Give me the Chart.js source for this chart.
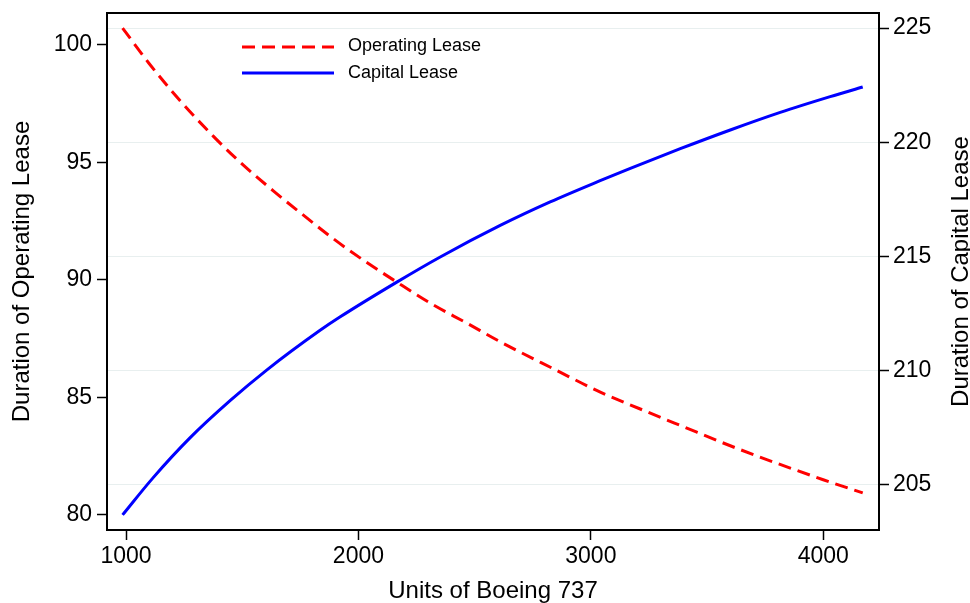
<!DOCTYPE html>
<html>
<head>
<meta charset="utf-8">
<script src="https://cdn.jsdelivr.net/npm/chart.js@4.4.1/dist/chart.umd.min.js"></script>
<style>
  html, body { margin: 0; padding: 0; background: #fff; }
  canvas { display: block; }
</style>
</head>
<body>
<canvas id="leaseChart" width="970" height="603"></canvas>
<script>
// Valores
const opUnits = [985, 1100, 1230, 1375, 1490, 1635, 1750, 1890, 2020, 2165, 2320, 2465, 2610, 2855, 3025, 3210, 3385, 3640, 4000, 4170];
const opDuration = [100.72, 99.20, 97.66, 96.12, 95.02, 93.78, 92.86, 91.77, 90.85, 89.91, 88.95, 88.17, 87.37, 86.14, 85.30, 84.52, 83.81, 82.79, 81.50, 80.94];

const capUnits = [985, 1115, 1275, 1450, 1605, 1835, 1920, 2165, 2350, 2610, 2825, 3040, 3170, 3385, 3600, 3815, 4030, 4170];
const capDuration = [203.69, 205.30, 207.06, 208.71, 210.03, 211.77, 212.35, 213.88, 214.97, 216.36, 217.39, 218.32, 218.86, 219.72, 220.54, 221.31, 222.00, 222.42];

const xTicks = [1000, 2000, 3000, 4000];
const leftTicks = [80, 85, 90, 95, 100];
const rightTicks = [205, 210, 215, 220, 225];

const FONT = '"Liberation Sans", Arial, Helvetica, sans-serif';

function toPoints(xs, ys) {
    return xs.map((x, i) => ({ x: x, y: ys[i] }));
}

function fixedTicks(values) {
    return function(scale) {
        scale.ticks = values.map(v => ({ value: v }));
    };
}

// Moldura preta em volta da área do gráfico
const framePlugin = {
    id: 'frame',
    afterDraw(chart) {
        const { ctx, chartArea: a } = chart;
        ctx.save();
        ctx.strokeStyle = '#000';
        ctx.lineWidth = 2;
        ctx.strokeRect(a.left, a.top, a.right - a.left, a.bottom - a.top);
        ctx.restore();
    }
};

// Título do eixo direito, lido de baixo para cima como o esquerdo
const rightTitlePlugin = {
    id: 'rightTitle',
    afterDraw(chart) {
        const { ctx, chartArea: a } = chart;
        ctx.save();
        ctx.translate(968, (a.top + a.bottom) / 2);
        ctx.rotate(-Math.PI / 2);
        ctx.font = '24px ' + FONT;
        ctx.fillStyle = '#000';
        ctx.textAlign = 'center';
        ctx.textBaseline = 'alphabetic';
        ctx.fillText('Duration of Capital Lease', 0, 0);
        ctx.restore();
    }
};

// Legenda dentro da área do gráfico
const insideLegendPlugin = {
    id: 'insideLegend',
    afterDraw(chart) {
        const ctx = chart.ctx;
        const rows = [{ y: 47, textY: 46.5 }, { y: 73, textY: 73 }];
        ctx.save();
        chart.data.datasets.forEach((ds, i) => {
            const r = rows[i];
            ctx.beginPath();
            ctx.strokeStyle = ds.borderColor;
            ctx.lineWidth = ds.borderWidth;
            ctx.setLineDash(ds.borderDash || []);
            ctx.moveTo(242, r.y);
            ctx.lineTo(334, r.y);
            ctx.stroke();
            ctx.setLineDash([]);
            ctx.font = '18px ' + FONT;
            ctx.fillStyle = '#000';
            ctx.textAlign = 'left';
            ctx.textBaseline = 'middle';
            ctx.fillText(ds.label, 348, r.textY);
        });
        ctx.restore();
    }
};

const tickFont = { family: FONT, size: 23 };
const titleFont = { family: FONT, size: 24, lineHeight: 1 };

new Chart(document.getElementById('leaseChart'), {
    type: 'line',
    data: {
        datasets: [{
            label: 'Operating Lease',
            data: toPoints(opUnits, opDuration),
            yAxisID: 'y',
            borderColor: '#ff0000',
            borderWidth: 3,
            borderDash: [13, 7],
            pointRadius: 0,
            cubicInterpolationMode: 'monotone',
            fill: false
        }, {
            label: 'Capital Lease',
            data: toPoints(capUnits, capDuration),
            yAxisID: 'y2',
            borderColor: '#0000ff',
            borderWidth: 3,
            pointRadius: 0,
            cubicInterpolationMode: 'monotone',
            fill: false
        }]
    },
    options: {
        responsive: false,
        animation: false,
        devicePixelRatio: 1,
        layout: { padding: { top: 13, left: 0, right: 0, bottom: 0 } },
        plugins: {
            legend: { display: false },
            tooltip: { enabled: false }
        },
        scales: {
            x: {
                type: 'linear',
                min: 918,
                max: 4240,
                afterBuildTicks: fixedTicks(xTicks),
                afterFit: s => { s.height = 73; s.paddingLeft = 0; s.paddingRight = 0; },
                border: { display: false },
                grid: { drawOnChartArea: false, tickLength: 10, tickColor: '#000', tickWidth: 1.5 },
                ticks: { font: tickFont, color: '#000', padding: 3, maxRotation: 0, callback: v => String(v) },
                title: { display: true, text: 'Units of Boeing 737', font: titleFont, color: '#000', padding: { top: 0, bottom: 0 } }
            },
            y: {
                position: 'left',
                min: 79.36,
                max: 101.36,
                afterBuildTicks: fixedTicks(leftTicks),
                afterFit: s => { s.width = 107; s.paddingTop = 0; s.paddingBottom = 0; },
                border: { display: false },
                grid: { drawOnChartArea: false, tickLength: 10, tickColor: '#000', tickWidth: 1.5 },
                ticks: { font: tickFont, color: '#000', padding: 5, callback: v => String(v) },
                title: { display: true, text: 'Duration of Operating Lease', font: titleFont, color: '#000', padding: { top: 10, bottom: 0 } }
            },
            y2: {
                position: 'right',
                min: 203.03,
                max: 225.66,
                afterBuildTicks: fixedTicks(rightTicks),
                afterFit: s => { s.width = 91; s.paddingTop = 0; s.paddingBottom = 0; },
                border: { display: false },
                grid: { drawOnChartArea: true, color: '#e8efef', lineWidth: 1, tickLength: 10, tickColor: '#000', tickWidth: 1.5 },
                ticks: { font: tickFont, color: '#000', padding: 4, callback: v => String(v) }
            }
        }
    },
    plugins: [framePlugin, rightTitlePlugin, insideLegendPlugin]
});
</script>
</body>
</html>
